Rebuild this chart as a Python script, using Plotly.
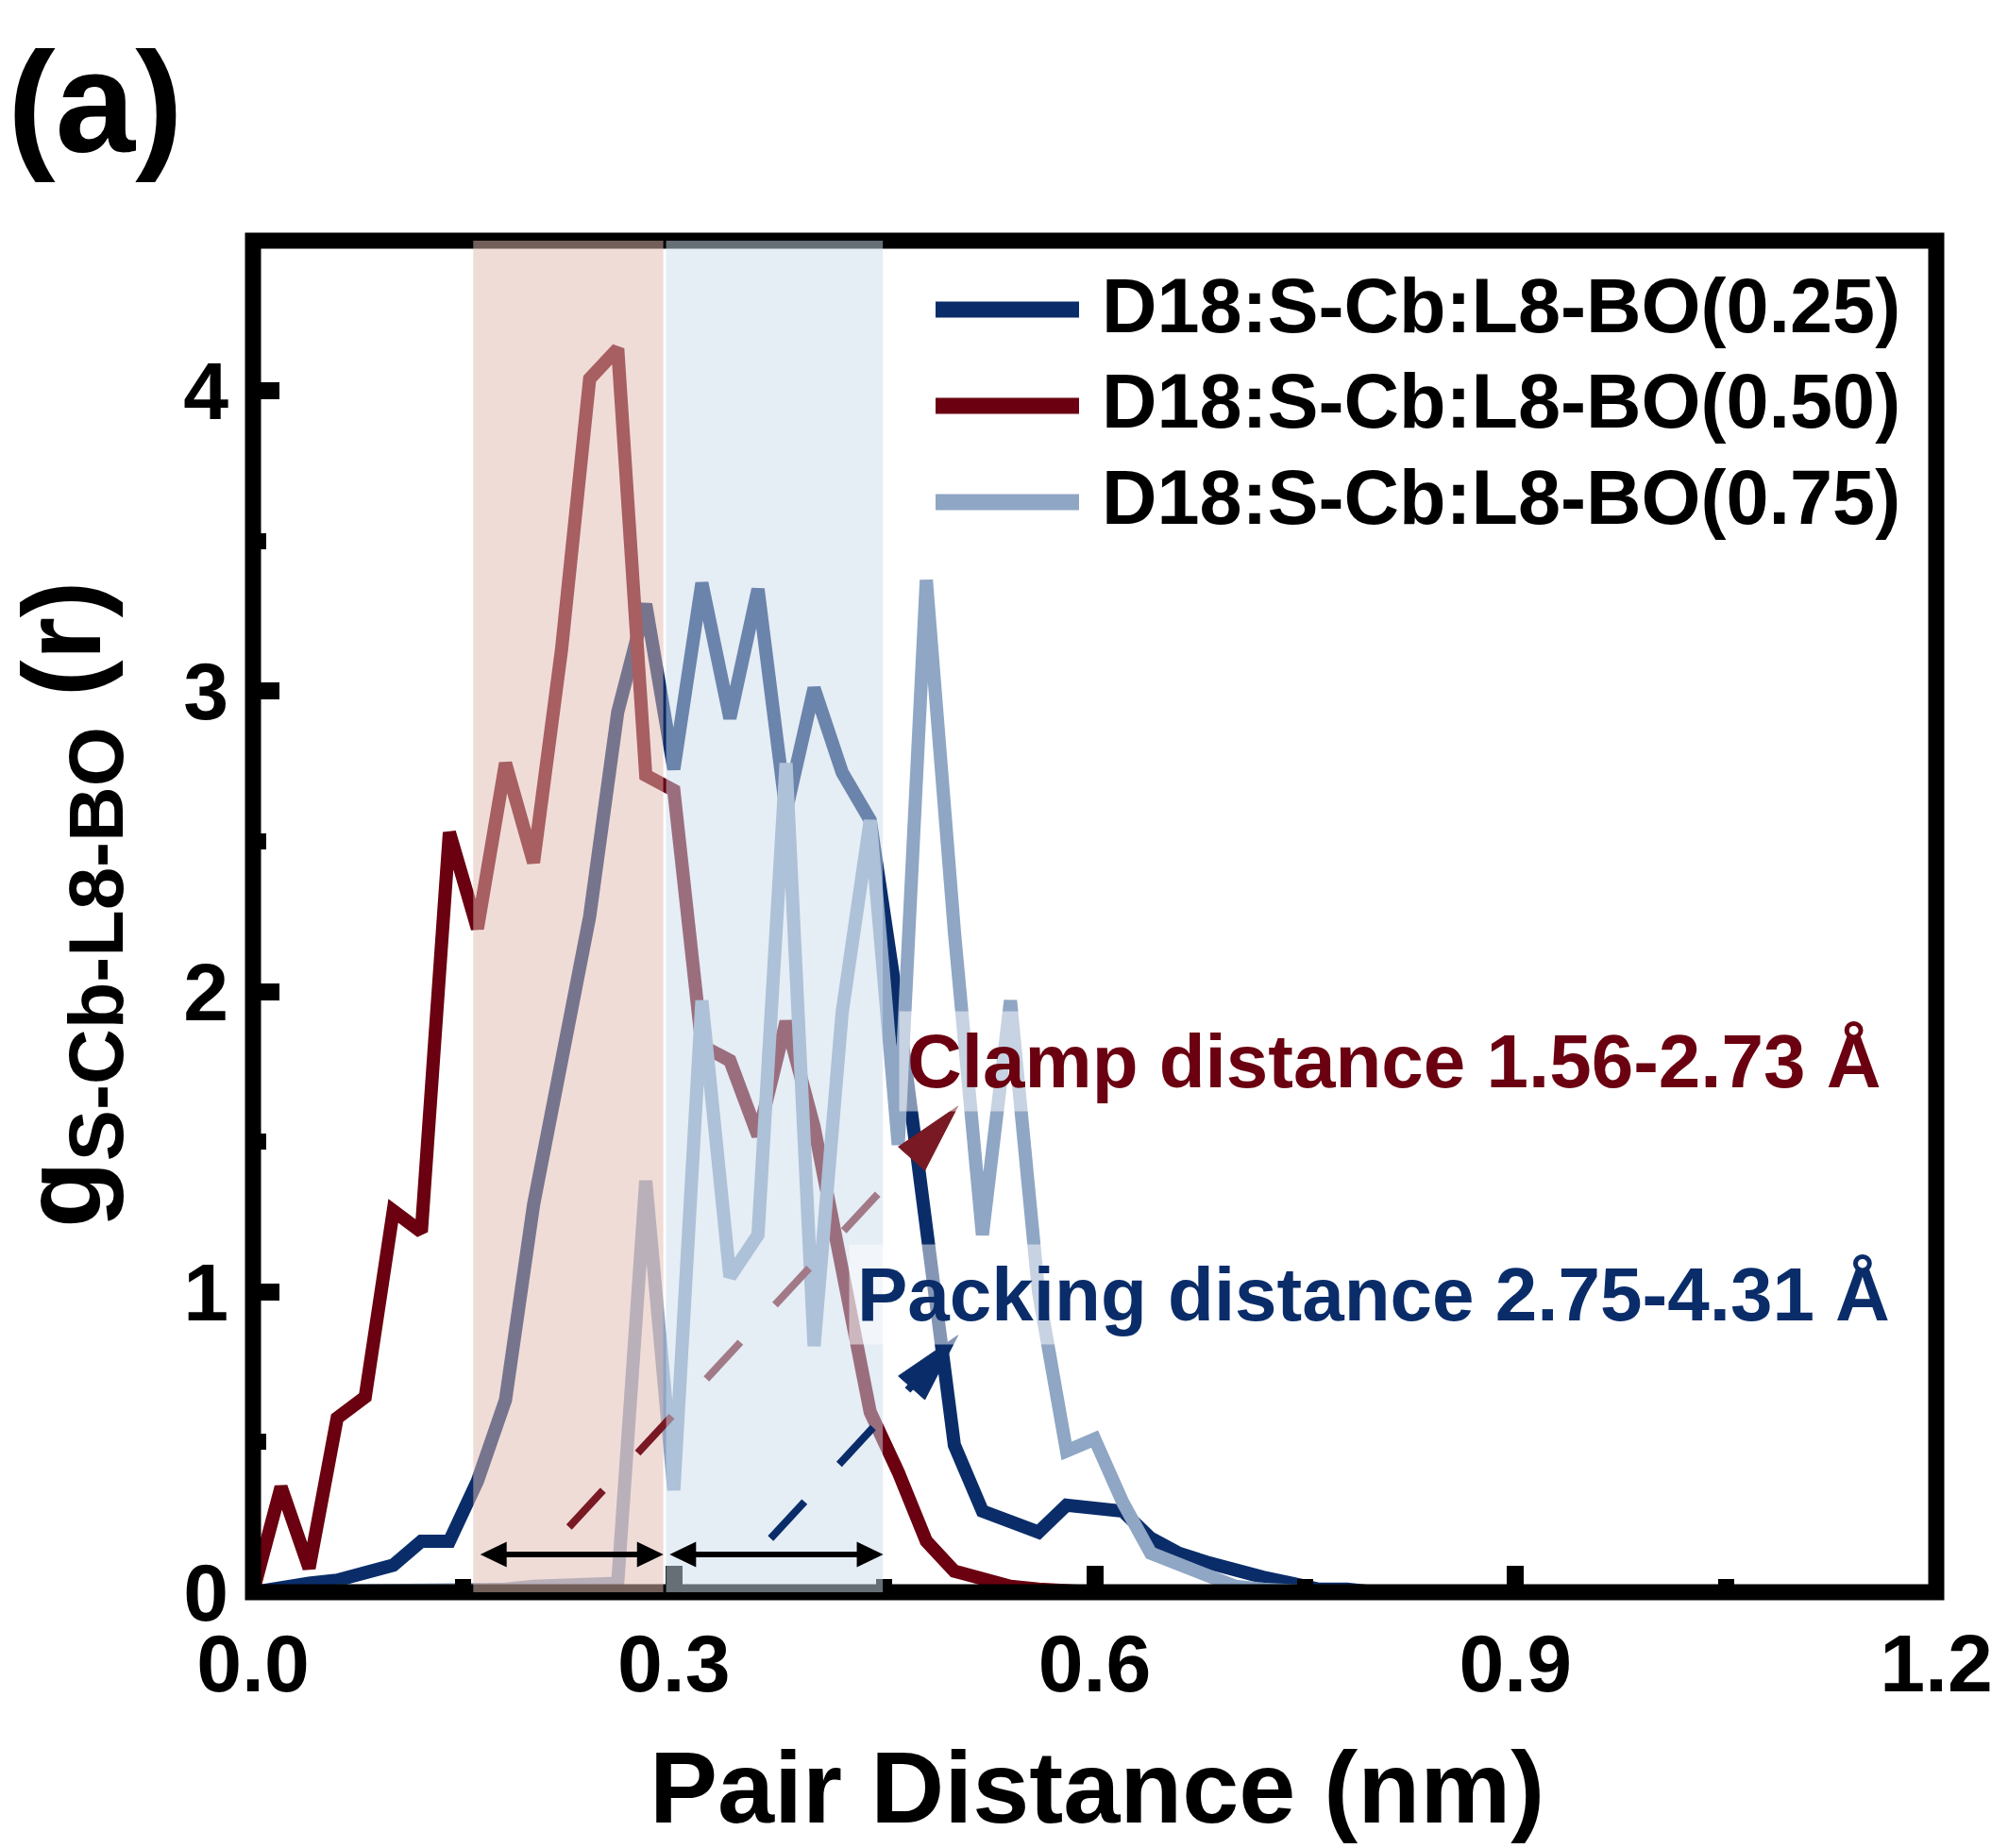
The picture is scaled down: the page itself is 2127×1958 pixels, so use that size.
import plotly.graph_objects as go

# ---------------- data ----------------
pair_distance = [0.00, 0.02, 0.04, 0.06, 0.08, 0.10, 0.12, 0.14, 0.16, 0.18,
                 0.20, 0.22, 0.24, 0.26, 0.28, 0.30, 0.32, 0.34, 0.36, 0.38,
                 0.40, 0.42, 0.44, 0.46, 0.48, 0.50, 0.52, 0.54, 0.56, 0.58,
                 0.60, 0.62, 0.64, 0.66, 0.68, 0.70, 0.72, 0.74, 0.76, 0.78,
                 0.80, 1.20]

g_025 = [0.00, 0.02, 0.03, 0.04, 0.06, 0.09, 0.17, 0.17, 0.37, 0.64,
         1.29, 1.76, 2.25, 2.93, 3.29, 2.74, 3.36, 2.91, 3.34, 2.60,
         3.01, 2.73, 2.57, 1.94, 1.20, 0.49, 0.27, 0.24, 0.20, 0.29,
         0.28, 0.27, 0.18, 0.13, 0.10, 0.07, 0.05, 0.03, 0.01, 0.01,
         0.00, 0.00]

g_050 = [0.00, 0.35, 0.08, 0.58, 0.65, 1.27, 1.20, 2.53, 2.21, 2.76,
         2.43, 3.14, 4.04, 4.14, 2.72, 2.67, 1.82, 1.77, 1.52, 1.90,
         1.55, 1.08, 0.60, 0.40, 0.17, 0.07, 0.04, 0.02, 0.01, 0.00,
         0.00, 0.00, 0.00, 0.00, 0.00, 0.00, 0.00, 0.00, 0.00, 0.00,
         0.00, 0.00]

g_075 = [0.00, 0.00, 0.00, 0.00, 0.00, 0.00, 0.00, 0.00, 0.01, 0.01,
         0.02, 0.02, 0.02, 0.03, 1.37, 0.34, 1.97, 1.05, 1.19, 2.76,
         0.82, 1.93, 2.57, 1.49, 3.37, 2.20, 1.19, 1.97, 1.00, 0.47,
         0.51, 0.30, 0.13, 0.09, 0.05, 0.02, 0.01, 0.00, 0.00, 0.00,
         0.00, 0.00]

series_names = ["D18:S-Cb:L8-BO(0.25)", "D18:S-Cb:L8-BO(0.50)", "D18:S-Cb:L8-BO(0.75)"]
series_values = [g_025, g_050, g_075]
series_colors = ["#0a2d6a", "#6a0010", "#8fa6c4"]

x_ticks = [0.0, 0.3, 0.6, 0.9, 1.2]
x_tick_labels = ["0.0", "0.3", "0.6", "0.9", "1.2"]
y_ticks = [0, 1, 2, 3, 4]
y_tick_labels = ["0", "1", "2", "3", "4"]

clamp_range = [0.157, 0.2925]     # red band
packing_range = [0.2945, 0.449]   # blue band

# ---------------- layout geometry ----------------
W, H = 2127, 1958
ML, MR, MT, MB = 268, 76, 255, 271
PW, PH = W - ML - MR, H - MT - MB

def px_x(px):
    return (px - ML) / PW

def px_y(py):
    return (H - MB - py) / PH

FONT = "Liberation Sans, Arial, Helvetica, sans-serif"

fig = go.Figure()
for name, vals, col in zip(series_names, series_values, series_colors):
    fig.add_trace(go.Scatter(x=pair_distance, y=vals, mode="lines", name=name,
                             line=dict(color=col, width=14), showlegend=False,
                             hoverinfo="skip"))

shapes = []
# frame
shapes.append(dict(type="rect", xref="paper", yref="paper", x0=0, x1=1, y0=0, y1=1,
                   line=dict(color="black", width=17), layer="above"))
# red band
shapes.append(dict(type="rect", xref="x", yref="y", x0=clamp_range[0], x1=clamp_range[1],
                   y0=0, y1=4.5, fillcolor="rgb(225,186,176)", opacity=0.51,
                   line=dict(width=0), layer="above"))
# red dashed line
shapes.append(dict(type="line", xref="x", yref="y", x0=0.2253, y0=0.217, x1=0.48, y1=1.50,
                   line=dict(color="#781923", width=8, dash="53px,54px"), layer="above"))
# blue band
shapes.append(dict(type="rect", xref="x", yref="y", x0=packing_range[0], x1=packing_range[1],
                   y0=0, y1=4.5, fillcolor="rgb(204,220,235)", opacity=0.5,
                   line=dict(width=0), layer="above"))
# blue dashed line
shapes.append(dict(type="line", xref="x", yref="y", x0=0.369, y0=0.179, x1=0.48, y1=0.74,
                   line=dict(color="#0a2d6a", width=8, dash="53px,54px"), layer="above"))
# dashed-arrow heads
for (ax_, ay_, col) in [(0.5025, 1.618, "#781923"), (0.5025, 0.855, "#0a2d6a")]:
    shapes.append(dict(type="path", xref="x", yref="y", xsizemode="pixel", ysizemode="pixel",
                       xanchor=ax_, yanchor=ay_, path="M0,0 L-63,-43 L-35,-68 Z",
                       fillcolor=col, line=dict(color=col, width=1), layer="above"))
# double-headed range arrows
arrow_y = 0.126
for (xa, xb) in [(0.162, 0.2926), (0.297, 0.4493)]:
    shapes.append(dict(type="line", xref="x", yref="y", x0=xa + 0.012, x1=xb - 0.012,
                       y0=arrow_y, y1=arrow_y, line=dict(color="black", width=6), layer="above"))
    shapes.append(dict(type="path", xref="x", yref="y", xsizemode="pixel", ysizemode="pixel",
                       xanchor=xb, yanchor=arrow_y, path="M0,0 L-28,13.5 L-28,-13.5 Z",
                       fillcolor="black", line=dict(color="black", width=0), layer="above"))
    shapes.append(dict(type="path", xref="x", yref="y", xsizemode="pixel", ysizemode="pixel",
                       xanchor=xa, yanchor=arrow_y, path="M0,0 L28,13.5 L28,-13.5 Z",
                       fillcolor="black", line=dict(color="black", width=0), layer="above"))
# legend lines
legend_y_lines = [328, 430, 532]
for yy, col in zip(legend_y_lines, series_colors):
    shapes.append(dict(type="line", xref="paper", yref="paper", x0=px_x(991), x1=px_x(1143),
                       y0=px_y(yy), y1=px_y(yy), line=dict(color=col, width=17), layer="above"))

annotations = []
legend_y_text = [323.5, 425, 526.5]
for yy, name in zip(legend_y_text, series_names):
    annotations.append(dict(xref="paper", yref="paper", x=px_x(1165), y=px_y(yy), text=name,
                            showarrow=False, xanchor="left", yanchor="middle",
                            font=dict(family=FONT, size=81, color="black", weight="bold")))

annotations.append(dict(xref="x", yref="y", x=0.8139, y=1.769, text="Clamp distance 1.56-2.73 Å",
                        showarrow=False, xanchor="center", yanchor="middle",
                        bgcolor="rgba(255,255,255,0.5)", borderpad=8,
                        font=dict(family=FONT, size=80, color="#6a0010", weight="bold")))
annotations.append(dict(xref="x", yref="y", x=0.7987, y=0.990, text="Packing distance 2.75-4.31 Å",
                        showarrow=False, xanchor="center", yanchor="middle",
                        bgcolor="rgba(255,255,255,0.5)", borderpad=8,
                        font=dict(family=FONT, size=80, color="#0a2d6a", weight="bold")))

# axis titles & panel label
annotations.append(dict(xref="paper", yref="paper", x=px_x(1162), y=px_y(1893),
                        text="Pair Distance (nm)", showarrow=False, xanchor="center", yanchor="middle",
                        font=dict(family=FONT, size=108, color="black", weight="bold")))
annotations.append(dict(xref="paper", yref="paper", x=px_x(74), y=px_y(958),
                        text="g<sub>S-Cb-L8-BO</sub> (r)", textangle=-90, showarrow=False,
                        xanchor="center", yanchor="middle",
                        font=dict(family=FONT, size=116, color="black", weight="bold")))
annotations.append(dict(xref="paper", yref="paper", x=px_x(6), y=px_y(108), text="(a)",
                        showarrow=False, xanchor="left", yanchor="middle",
                        font=dict(family=FONT, size=152, color="black", weight="bold")))

fig.update_layout(
    width=W, height=H,
    margin=dict(l=ML, r=MR, t=MT, b=MB, pad=0),
    paper_bgcolor="white", plot_bgcolor="white",
    showlegend=False,
    shapes=shapes, annotations=annotations,
    xaxis=dict(range=[0, 1.2], tickvals=x_ticks, ticktext=x_tick_labels,
               ticks="inside", ticklen=28, tickwidth=18, tickcolor="black",
               showline=False, showgrid=False, zeroline=False, mirror=False,
               ticklabelstandoff=18,
               tickfont=dict(family=FONT, size=86, color="black", weight="bold"),
               minor=dict(tickvals=[0.15, 0.45, 0.75, 1.05], ticks="inside", ticklen=14,
                          tickwidth=17, tickcolor="black", showgrid=False)),
    yaxis=dict(range=[0, 4.5], tickvals=y_ticks, ticktext=y_tick_labels,
               ticks="inside", ticklen=28, tickwidth=18, tickcolor="black",
               showline=False, showgrid=False, zeroline=False, mirror=False,
               ticklabelstandoff=25,
               tickfont=dict(family=FONT, size=86, color="black", weight="bold"),
               minor=dict(tickvals=[0.5, 1.5, 2.5, 3.5], ticks="inside", ticklen=14,
                          tickwidth=17, tickcolor="black", showgrid=False)),
)

fig.write_html("out.html", config={"displayModeBar": False},
               post_script="document.body.style.margin='0px';document.body.style.overflow='hidden';")
